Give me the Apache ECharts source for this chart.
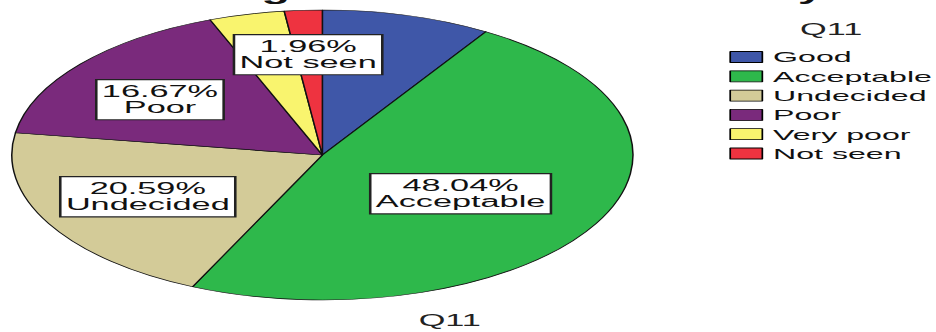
<!DOCTYPE html>
<html>
<head>
<meta charset="utf-8">
<script src="https://cdn.jsdelivr.net/npm/echarts@6/dist/echarts.min.js"></script>
<style>
  html, body { margin: 0; padding: 0; background: #fff; overflow: hidden; }
  #wrap { width: 936px; height: 332px; overflow: hidden; position: relative; }
  #chart { width: 437px; height: 332px; transform: scaleX(2.142); transform-origin: 0 0; position: absolute; left: 0; top: 0; }
</style>
</head>
<body>
<div id="wrap"><div id="chart"></div></div>
<script>
// ---- data ----
const categories = ['Good', 'Acceptable', 'Undecided', 'Poor', 'Very poor', 'Not seen'];
const percents   = [8.82, 48.04, 20.59, 16.67, 3.92, 1.96];
const showLabel  = [false, true, true, true, false, true];
const colors     = ['#3f57a8', '#2eb84b', '#d3cb98', '#7a2a7c', '#f9f46e', '#ee3340'];
const titleText  = 'the Bangladesh tourism industry';
const legendTitle = 'Q11';
const axisTitle   = 'Q11';

// label nudges (layout only, in unscaled px)
const labelNudge = {
  'Acceptable': [-2, 3],
  'Undecided': [-15, 6],
  'Poor': [-17, -8],
  'Not seen': [-2, -25]
};

const FONT = 'Liberation Sans, Arial, sans-serif';

const chart = echarts.init(document.getElementById('chart'), null, { renderer: 'svg' });

const data = categories.map((c, i) => ({
  name: c,
  value: percents[i],
  itemStyle: { color: colors[i] },
  label: {
    show: showLabel[i],
    offset: labelNudge[c] || [0, 0]
  }
}));

chart.setOption({
  animation: false,
  title: [
    {
      text: titleText, left: 213, top: -19, textAlign: 'center', padding: 0,
      textStyle: { fontFamily: FONT, fontSize: 22, fontWeight: 'bold', color: '#111', lineHeight: 22 }
    },
    {
      text: legendTitle, left: 388, top: 22, textAlign: 'center', padding: 0,
      textStyle: { fontFamily: FONT, fontSize: 16, fontWeight: 'normal', color: '#222', lineHeight: 16 }
    },
    {
      text: axisTitle, left: 210, top: 313, textAlign: 'center', padding: 0,
      textStyle: { fontFamily: FONT, fontSize: 16, fontWeight: 'normal', color: '#222', lineHeight: 16 }
    }
  ],
  legend: {
    orient: 'vertical',
    left: 340.5, top: 49, padding: 0,
    itemWidth: 15, itemHeight: 11, itemGap: 3.3,
    icon: 'rect',
    data: categories,
    itemStyle: { borderColor: '#000', borderWidth: 0.8 },
    textStyle: { fontFamily: FONT, fontSize: 15, lineHeight: 16, color: '#111' },
    selectedMode: false
  },
  series: [{
    type: 'pie',
    center: [150.5, 155],
    radius: [0, 145],
    startAngle: 90,
    clockwise: true,
    avoidLabelOverlap: false,
    itemStyle: { borderColor: '#111', borderWidth: 0.7 },
    label: {
      position: 'inside',
      formatter: p => p.value.toFixed(2) + '%\n' + p.name,
      fontFamily: FONT, fontSize: 16, lineHeight: 16, color: '#111',
      backgroundColor: '#fff', borderColor: '#222', borderWidth: 1.2,
      padding: [4, 2, 3, 2], align: 'center'
    },
    labelLine: { show: false },
    emphasis: { disabled: true },
    data: data
  }]
});
</script>
</body>
</html>
